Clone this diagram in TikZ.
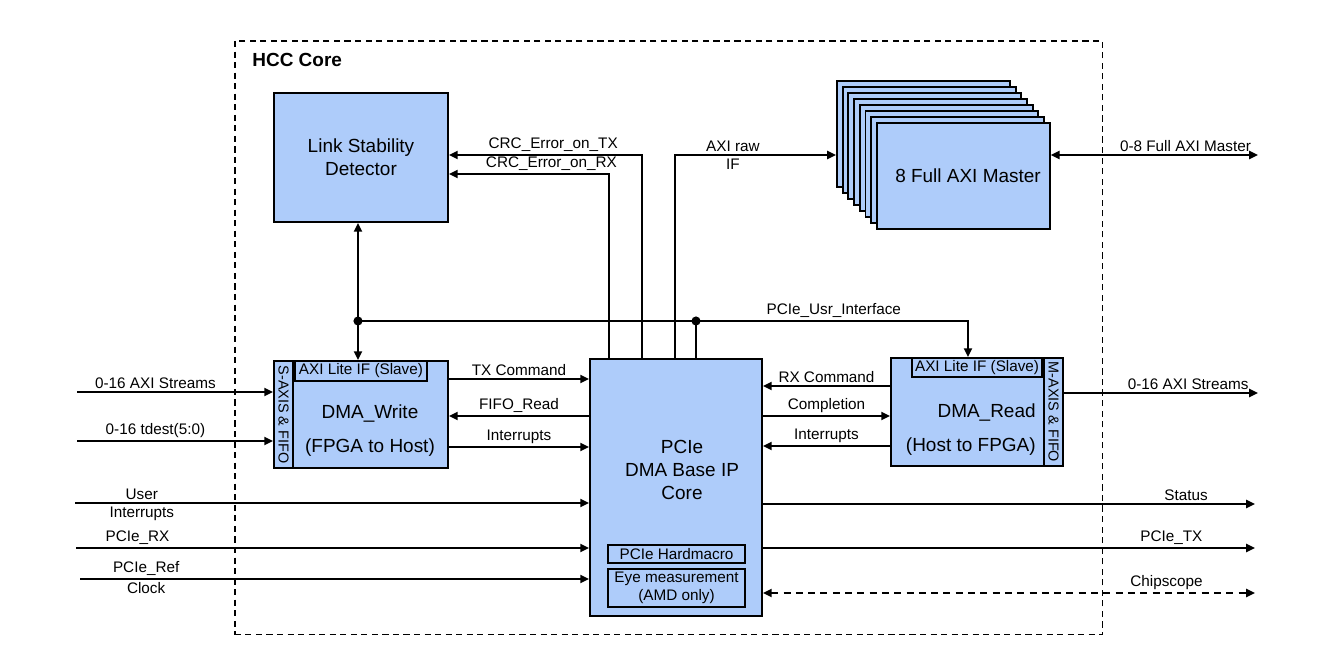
\documentclass[tikz,border=0pt]{standalone}
\usepackage{fontspec}
\setmainfont{Liberation Sans}
\usetikzlibrary{arrows.meta,positioning,calc}
\definecolor{boxblue}{RGB}{174,204,250}
\newcommand{\smallfont}{\fontsize{8.7}{10.2}\selectfont}
\newcommand{\stripfont}{\fontsize{8.2}{10}\selectfont}
\newcommand{\bigfont}{\fontsize{10.8}{13}\selectfont}
\tikzset{
  block/.style={draw=black, line width=1.1pt, fill=boxblue, align=center, inner sep=0pt, font=\bigfont},
  subblock/.style={draw=black, line width=1.1pt, fill=boxblue, align=center, inner sep=0pt, font=\smallfont},
  lbl/.style={font=\smallfont, inner sep=1.5pt, align=center},
  striplbl/.style={font=\stripfont, inner sep=0pt, rotate=-90},
  boxtext/.style={font=\bigfont, inner sep=0pt},
  arr/.style={-{Triangle[length=5pt,width=4.6pt]}, line width=1.1pt},
  darr/.style={{Triangle[length=5pt,width=4.6pt]}-{Triangle[length=5pt,width=4.6pt]}, line width=1.1pt},
  dotnode/.style={circle, fill=black, inner sep=0pt, minimum size=5.2pt},
  coreframe/.style={draw=black, line width=0.9pt, dash pattern=on 3.5pt off 2.5pt}
}
\begin{document}
\begin{tikzpicture}[x=0.02cm, y=-0.02cm]
  \fill[white] (0,0) rectangle (1338,672);
  \useasboundingbox (0,0) rectangle (1338,672);

  \node[coreframe, minimum width=17.36cm, minimum height=11.88cm, anchor=north west] (hcc) at (234,40) {};
  \node[boxtext, font=\bigfont\bfseries, anchor=west] (hcclbl) at (252,60) {HCC Core};

  \node[block, minimum width=3.48cm, minimum height=2.58cm] (lsd) at (361,157.5) {Link Stability\\Detector};

  \foreach \i in {0,...,7}
    \node[block, minimum width=3.46cm, minimum height=2.12cm, anchor=north west] (card\i) at (836+5.7*\i, 80+6*\i) {};
  \node[boxtext] (axitxt) at (968,176) {8 Full AXI Master};

  \node[block, minimum width=3.44cm, minimum height=5.14cm] (pcie) at (676,487.5) {};
  \node[boxtext, align=center] (pcietxt) at (682,470) {PCIe\\DMA Base IP\\Core};
  \node[subblock, minimum width=2.74cm, minimum height=0.36cm] (hmacro) at (676.5,554) {PCIe Hardmacro};
  \node[subblock, minimum width=2.74cm, minimum height=0.76cm] (eye) at (676.5,588) {Eye measurement\\(AMD only)};

  \node[block, minimum width=3.48cm, minimum height=2.14cm] (dmaw) at (361,414.5) {};
  \node[subblock, minimum width=0.38cm, minimum height=2.14cm, anchor=north west] (wstrip) at (dmaw.north west) {};
  \node[striplbl] at (wstrip) {S-AXIS \& FIFO};
  \node[subblock, minimum width=2.64cm, minimum height=0.4cm, anchor=north west] (wlite) at (wstrip.north east) {AXI Lite IF (Slave)};
  \node[boxtext, align=center] (dmawtxt) at (370,431) {DMA\_Write\\[6.3pt](FPGA to Host)};

  \node[block, minimum width=3.44cm, minimum height=2.16cm] (dmar) at (977,412) {};
  \node[subblock, minimum width=0.38cm, minimum height=2.16cm, anchor=north east] (rstrip) at (dmar.north east) {};
  \node[striplbl] at (rstrip) {M-AXIS \& FIFO};
  \node[subblock, minimum width=2.6cm, minimum height=0.38cm, anchor=north east] (rlite) at (rstrip.north west) {AXI Lite IF (Slave)};
  \node[boxtext, align=right, anchor=east] (dmartxt) at (1036,430) {DMA\_Read\\[6.3pt](Host to FPGA)};

  \coordinate (inaxis) at (77,392);
  \coordinate (intdest) at (77,441);
  \coordinate (inuser) at (75,503);
  \coordinate (inrx) at (76,548);
  \coordinate (inref) at (80,579);
  \coordinate (outaxim) at (1258,155);
  \coordinate (outaxis) at (1258,393);
  \coordinate (outstat) at (1255,504);
  \coordinate (outtx) at (1255,548);
  \coordinate (outcs) at (1255,593);
  \coordinate (busl) at (358,321);
  \coordinate (busm) at (696,321);
  \coordinate (busr) at (968,321);

  \draw[arr] (pcie.north -| 642,0) |- (lsd.east |- 0,155) node[lbl, pos=0.73, above] {CRC\_Error\_on\_TX};
  \draw[arr] (pcie.north -| 609,0) |- (lsd.east |- 0,174) node[lbl, pos=0.68, above] {CRC\_Error\_on\_RX};
  \draw[arr] (pcie.north -| 675,0) |- (card0.west |- 0,155) node[lbl, pos=0.68, above] {AXI raw} node[lbl, pos=0.68, below] {IF};
  \draw[darr] (card7.east |- outaxim) -- (outaxim) node[lbl, pos=0.65, above] {0-8 Full AXI Master};

  \draw[darr] (lsd.south -| busl) -- (wlite.north -| busl);
  \draw[arr] (busl) -- (busr) node[lbl, pos=0.78, above] {PCIe\_Usr\_Interface} -- (busr |- rlite.north);
  \draw[line width=1.1pt] (busm) -- (busm |- pcie.north);
  \node[dotnode] at (busl) {};
  \node[dotnode] at (busm) {};

  \draw[arr] (inaxis) -- (inaxis -| wstrip.west) node[lbl, pos=0.4, above] {0-16 AXI Streams};
  \draw[arr] (intdest) -- (intdest -| wstrip.west) node[lbl, pos=0.4, above] {0-16 tdest(5:0)};

  \draw[arr] (dmaw.east |- 0,379) -- (pcie.west |- 0,379) node[lbl, midway, above] {TX Command};
  \draw[arr] (pcie.west |- 0,416) -- (dmaw.east |- 0,416) node[lbl, midway, above] {FIFO\_Read};
  \draw[arr] (dmaw.east |- 0,447) -- (pcie.west |- 0,447) node[lbl, midway, above] {Interrupts};

  \draw[arr] (dmar.west |- 0,386) -- (pcie.east |- 0,386) node[lbl, midway, above] {RX Command};
  \draw[arr] (pcie.east |- 0,416) -- (dmar.west |- 0,416) node[lbl, midway, above] {Completion};
  \draw[arr] (dmar.west |- 0,446) -- (pcie.east |- 0,446) node[lbl, midway, above] {Interrupts};

  \draw[arr] (rstrip.east |- outaxis) -- (outaxis) node[lbl, pos=0.64, above] {0-16 AXI Streams};

  \draw[arr] (inuser) -- (inuser -| pcie.west) node[lbl, pos=0.13, above] {User} node[lbl, pos=0.13, below] {Interrupts};
  \draw[arr] (inrx) -- (inrx -| pcie.west) node[lbl, pos=0.12, above] {PCIe\_RX};
  \draw[arr] (inref) -- (inref -| pcie.west) node[lbl, pos=0.13, above] {PCIe\_Ref} node[lbl, pos=0.13, below] {Clock};

  \draw[arr] (pcie.east |- outstat) -- (outstat) node[lbl, pos=0.86, above] {Status};
  \draw[arr] (pcie.east |- outtx) -- (outtx) node[lbl, pos=0.83, above] {PCIe\_TX};
  \draw[darr, dash pattern=on 4pt off 3pt] (pcie.east |- outcs) -- (outcs) node[lbl, pos=0.82, above] {Chipscope};
\end{tikzpicture}
\end{document}
